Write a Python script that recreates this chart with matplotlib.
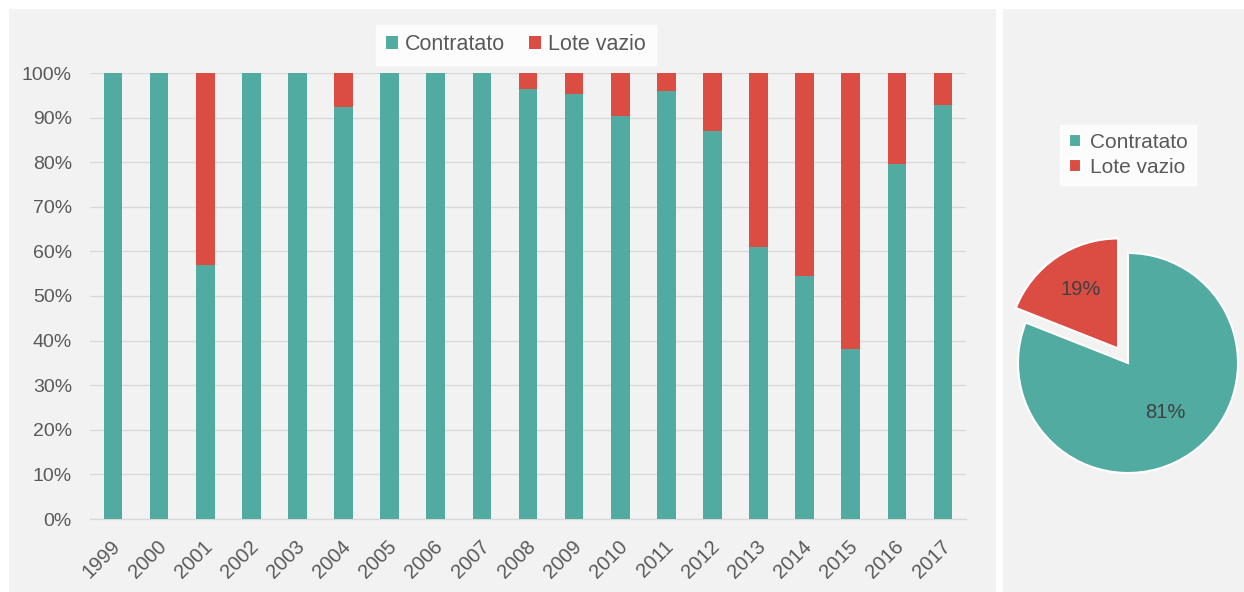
import numpy as np
import matplotlib.pyplot as plt
from matplotlib.patches import Rectangle
from matplotlib.ticker import PercentFormatter
from matplotlib.transforms import ScaledTranslation

plt.rcParams['font.family'] = ['Liberation Sans', 'DejaVu Sans']

years = ['1999', '2000', '2001', '2002', '2003', '2004', '2005', '2006', '2007', '2008',
         '2009', '2010', '2011', '2012', '2013', '2014', '2015', '2016', '2017']
contratato = [100, 100, 57.0, 100, 100, 92.3, 100, 100, 100, 96.4,
              95.2, 90.4, 95.9, 87.0, 60.9, 54.5, 38.1, 79.5, 92.9]
lote_vazio = [100 - v for v in contratato]

pie_labels = ['Contratato', 'Lote vazio']
pie_values = [81, 19]

teal = '#52ABA1'
red = '#DB4C43'
txt = '#595959'
grid = '#D9D9D9'

fig = plt.figure(figsize=(12.44, 5.92), dpi=100)
fig.patch.set_facecolor('white')

# panel backgrounds
fig.patches.append(Rectangle((9 / 1244, 0), 987 / 1244, 583 / 592, transform=fig.transFigure,
                             facecolor='#F2F2F2', edgecolor='none', zorder=-10))
fig.patches.append(Rectangle((1003 / 1244, 0), 241 / 1244, 583 / 592, transform=fig.transFigure,
                             facecolor='#F2F2F2', edgecolor='none', zorder=-10))

# stacked bar chart
ax = fig.add_axes([90 / 1244, 73 / 592, 876 / 1244, 446 / 592])
ax.set_facecolor('none')
x = np.arange(len(years))
b1 = ax.bar(x, np.array(contratato) / 100, width=0.405, color=teal, label='Contratato', zorder=3)
b2 = ax.bar(x, np.array(lote_vazio) / 100, width=0.405, bottom=np.array(contratato) / 100,
            color=red, label='Lote vazio', zorder=3)
ax.set_xlim(-0.5, len(years) - 0.5)
ax.set_ylim(0, 1)
ax.set_yticks(np.arange(0, 1.01, 0.1))
ax.yaxis.set_major_formatter(PercentFormatter(1.0, decimals=0))
ax.set_xticks(x)
ax.set_xticklabels(years, rotation=45, ha='right', va='top')
ax.tick_params(axis='y', length=0, pad=13, labelsize=14, labelcolor=txt)
ax.tick_params(axis='x', length=0, pad=13, labelsize=14.5, labelcolor=txt)
shift = ScaledTranslation(11 / 100, 0, fig.dpi_scale_trans)
for lab in ax.get_xticklabels():
    lab.set_transform(lab.get_transform() + shift)
ax.grid(axis='y', color=grid, linewidth=1, zorder=0)
for s in ['top', 'right', 'left']:
    ax.spines[s].set_visible(False)
ax.spines['bottom'].set_color(grid)
ax.spines['bottom'].set_linewidth(1)

leg = fig.legend(handles=[b1, b2], loc='center', bbox_to_anchor=(516 / 1244, 1 - 45 / 592),
                 ncol=2, frameon=True, fontsize=15.5, handlelength=0.55, handleheight=0.55,
                 handletextpad=0.35, columnspacing=1.1, fancybox=False, borderpad=0.45)
leg.get_frame().set_facecolor('white')
leg.get_frame().set_edgecolor('white')
for t in leg.get_texts():
    t.set_color(txt)

# pie chart
pax = fig.add_axes([(1128 - 143) / 1244, (229 - 143) / 592, 286 / 1244, 286 / 592])
wedges, texts, autotexts = pax.pie(pie_values, colors=[teal, red], startangle=90, counterclock=False,
                                   explode=[0, 0.16], autopct='%1.0f%%', pctdistance=0.6,
                                   wedgeprops=dict(edgecolor='white', linewidth=1.5),
                                   textprops=dict(color='#404040', fontsize=14.5))
autotexts[0].set_position((autotexts[0].get_position()[0], autotexts[0].get_position()[1] + 0.05))
autotexts[1].set_position((autotexts[1].get_position()[0], autotexts[1].get_position()[1] + 0.04))
pax.set_xlim(-1.3, 1.3)
pax.set_ylim(-1.3, 1.3)
pax.set_aspect('equal')
pax.axis('off')

pleg = fig.legend(handles=wedges, labels=pie_labels, loc='center',
                  bbox_to_anchor=(1128 / 1244, 1 - 155 / 592), frameon=True, fontsize=15,
                  handlelength=0.6, handleheight=0.6, handletextpad=0.4, fancybox=False,
                  borderpad=0.4, labelspacing=0.3)
pleg.get_frame().set_facecolor('white')
pleg.get_frame().set_edgecolor('white')
for t in pleg.get_texts():
    t.set_color(txt)

fig.savefig('out.png', dpi=100)
